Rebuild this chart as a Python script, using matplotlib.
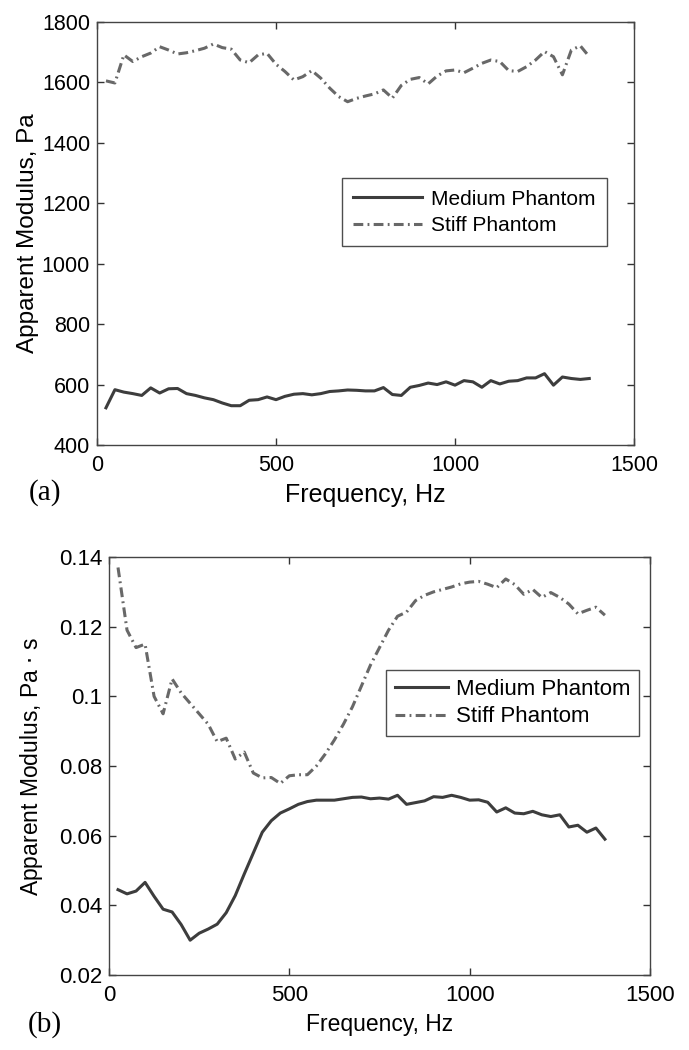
import numpy as np
import matplotlib
matplotlib.use("Agg")
import matplotlib.pyplot as plt

plt.rcParams['font.family'] = ['Liberation Sans', 'DejaVu Sans']

# frequency grid, Hz
freq = np.arange(25, 1376, 25)

# (a) storage modulus, Pa
medium_a = [523, 583, 575, 570, 564, 589, 572, 586, 587, 570, 564, 556, 550, 539, 530, 530,
            548, 550, 559, 550, 561, 568, 570, 566, 570, 577, 579, 582, 581, 579, 579, 590,
            567, 564, 591, 597, 605, 600, 609, 598, 613, 609, 591, 613, 602, 611, 613, 622,
            622, 636, 598, 625, 620, 617, 620]
stiff_a = [1605, 1598, 1691, 1669, 1685, 1697, 1718, 1707, 1694, 1698, 1705, 1713, 1727, 1715, 1710, 1674,
           1665, 1691, 1696, 1660, 1636, 1608, 1619, 1639, 1614, 1581, 1553, 1536, 1547, 1555, 1562, 1575,
           1548, 1590, 1610, 1616, 1595, 1621, 1638, 1641, 1632, 1647, 1663, 1674, 1669, 1639, 1636, 1652,
           1674, 1702, 1685, 1625, 1707, 1721, 1685]

# (b) loss term, Pa s
medium_b = [0.0445, 0.0433, 0.0441, 0.0466, 0.0426, 0.0389, 0.0381, 0.0345, 0.0300, 0.0320, 0.0332, 0.0346,
            0.0379, 0.0428, 0.0490, 0.0550,
            0.0610, 0.0643, 0.0665, 0.0677, 0.0690, 0.0698, 0.0702, 0.0702, 0.0702, 0.0706, 0.0710, 0.0711,
            0.0706, 0.0708, 0.0705, 0.0716,
            0.0690, 0.0695, 0.0700, 0.0712, 0.0710, 0.0716, 0.0710, 0.0702, 0.0703, 0.0696, 0.0668, 0.0680,
            0.0665, 0.0663, 0.0670, 0.0660,
            0.0655, 0.0660, 0.0625, 0.0630, 0.0610, 0.0622, 0.0590]
stiff_b = [0.137, 0.119, 0.114, 0.115, 0.100, 0.095, 0.105, 0.101, 0.098, 0.095, 0.092, 0.087,
           0.088, 0.082, 0.084, 0.078,
           0.0766, 0.0767, 0.0750, 0.0772, 0.0775, 0.0775, 0.0800, 0.0835, 0.0875, 0.0920, 0.0970, 0.1030,
           0.1090, 0.1140, 0.1190, 0.1230,
           0.1242, 0.1275, 0.1290, 0.1300, 0.1307, 0.1314, 0.1323, 0.1328, 0.1330, 0.1322, 0.1312, 0.1337,
           0.1321, 0.1293, 0.1307, 0.1284,
           0.1298, 0.1284, 0.1265, 0.1237, 0.1247, 0.1256, 0.1233]

labels = ["Medium Phantom", "Stiff Phantom"]
xticks = [0, 500, 1000, 1500]

med_color = "#3d3d3d"
stiff_color = "#686868"
dashdot = (0, (3.2, 1.4, 0.6, 1.4))

fig = plt.figure(figsize=(6.89, 10.5), dpi=100)
ax1 = fig.add_axes([0.1408, 0.5762, 0.7794, 0.4029])
ax2 = fig.add_axes([0.1582, 0.0714, 0.7852, 0.3981])


def style(ax, fs, xfs):
    ax.set_xlim(0, 1500)
    ax.set_xticks(xticks)
    ax.tick_params(direction='in', top=True, right=True, length=5, width=1,
                   labelsize=fs, color="#333333")
    ax.tick_params(axis='x', pad=7)
    ax.tick_params(axis='y', pad=5)
    for s in ax.spines.values():
        s.set_color("#444444")
        s.set_linewidth(1.0)
    ax.set_xlabel("Frequency, Hz", fontsize=xfs, labelpad=5)


ax1.plot(freq, medium_a, color=med_color, lw=2.2, label=labels[0])
ax1.plot(freq, stiff_a, color=stiff_color, lw=2.2, linestyle=dashdot, label=labels[1])
ax1.set_ylim(400, 1800)
ax1.set_yticks(np.arange(400, 1801, 200))
style(ax1, 15.5, 18)
ax1.set_ylabel("Apparent Modulus, Pa", fontsize=17.5, labelpad=2)
ax1.legend(loc='upper right', bbox_to_anchor=(0.95, 0.631), fontsize=15, frameon=True,
           fancybox=False, edgecolor="#222222", handlelength=3.3, borderpad=0.55,
           labelspacing=0.35, handletextpad=0.45, borderaxespad=0).get_frame().set_linewidth(1.0)

ax2.plot(freq, medium_b, color=med_color, lw=2.2, label=labels[0])
ax2.plot(freq, stiff_b, color=stiff_color, lw=2.2, linestyle=dashdot, label=labels[1])
ax2.set_ylim(0.02, 0.14)
ax2.set_yticks([0.02, 0.04, 0.06, 0.08, 0.1, 0.12, 0.14])
ax2.set_yticklabels(["0.02", "0.04", "0.06", "0.08", "0.1", "0.12", "0.14"])
style(ax2, 16, 16.5)
ax2.set_ylabel("Apparent Modulus, Pa $\\cdot$ s", fontsize=16.5, labelpad=10)
ax2.legend(loc='upper right', bbox_to_anchor=(0.98, 0.73), fontsize=16, frameon=True,
           fancybox=False, edgecolor="#222222", handlelength=2.4, borderpad=0.4,
           labelspacing=0.3, handletextpad=0.35, borderaxespad=0).get_frame().set_linewidth(1.0)

fig.text(0.0653, 0.5305, "(a)", fontsize=21, family=['Liberation Serif'], ha='center', va='center')
fig.text(0.0653, 0.0238, "(b)", fontsize=21, family=['Liberation Serif'], ha='center', va='center')

fig.savefig("out.png", dpi=100)
